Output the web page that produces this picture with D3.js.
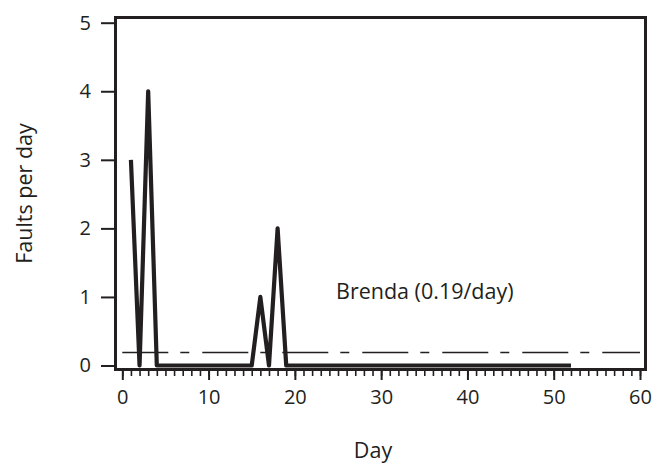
<!DOCTYPE html>
<html>
<head>
<meta charset="utf-8">
<script src="https://cdn.jsdelivr.net/npm/d3@7"></script>
<style>
  html, body { margin: 0; padding: 0; background: #fff; }
  svg { display: block; }
  text { font-family: "Open Sans", Roboto, sans-serif; fill: #231f20; }
</style>
</head>
<body>
<svg id="chart" width="654" height="466"></svg>
<script>
// ---- data ----
const days = d3.range(1, 53); // days 1..52
const faults = [3,0,4,0,0,0,0,0,0,0,0,0,0,0,0,1,0,2,0,0,
                0,0,0,0,0,0,0,0,0,0,0,0,0,0,0,0,0,0,0,0,
                0,0,0,0,0,0,0,0,0,0,0,0];
const meanRate = 0.19;
const seriesLabel = "Brenda (0.19/day)";
const xMajorTicks = [0, 10, 20, 30, 40, 50, 60];
const xMinorTicks = d3.range(0, 61);
const yTicks = [0, 1, 2, 3, 4, 5];
const xTitle = "Day";
const yTitle = "Faults per day";

const ink = "#231f20";
const fontFam = '"Open Sans", Roboto, sans-serif';
const svg = d3.select("#chart");

const x = d3.scaleLinear().domain([0, 60]).range([122.3, 640]);
const y = d3.scaleLinear().domain([0, 5]).range([365.5, 22.7]);

const box = { left: 115.5, top: 17.5, right: 645.5, bottom: 369.5 };

// y axis (ticks outside left)
const yAxis = svg.append("g")
  .attr("transform", `translate(${box.left - 1.5},0)`)
  .call(d3.axisLeft(y).tickValues(yTicks).tickSize(13).tickPadding(10).tickFormat(d3.format("d")));
yAxis.select(".domain").remove();
yAxis.selectAll(".tick line").attr("stroke", ink).attr("stroke-width", 2);
yAxis.selectAll(".tick text").attr("font-size", 20).style("font-family", fontFam).attr("fill", ink);

// x axis minor ticks
const xMinor = svg.append("g")
  .attr("transform", `translate(0,${box.bottom + 1.5})`)
  .call(d3.axisBottom(x).tickValues(xMinorTicks).tickSize(5).tickFormat(""));
xMinor.select(".domain").remove();
xMinor.selectAll(".tick line").attr("stroke", ink).attr("stroke-width", 1.6);

// x axis major ticks
const xAxis = svg.append("g")
  .attr("transform", `translate(0,${box.bottom + 1.5})`)
  .call(d3.axisBottom(x).tickValues(xMajorTicks).tickSize(9).tickPadding(10).tickFormat(d3.format("d")));
xAxis.select(".domain").remove();
xAxis.selectAll(".tick line").attr("stroke", ink).attr("stroke-width", 2);
xAxis.selectAll(".tick text").attr("font-size", 20).style("font-family", fontFam).attr("fill", ink);

// mean dashed line
svg.append("line")
  .attr("x1", x(0)).attr("x2", x(60))
  .attr("y1", y(meanRate)).attr("y2", y(meanRate))
  .attr("stroke", ink).attr("stroke-width", 1.6)
  .attr("stroke-dasharray", "46,12,9,13");

// data line
const line = d3.line().x(d => x(d[0])).y(d => y(d[1]));
svg.append("path")
  .datum(days.map((d, i) => [d, faults[i]]))
  .attr("d", line)
  .attr("fill", "none")
  .attr("stroke", ink)
  .attr("stroke-width", 4.2)
  .attr("stroke-linejoin", "round");

// box
svg.append("rect")
  .attr("x", box.left).attr("y", box.top)
  .attr("width", box.right - box.left).attr("height", box.bottom - box.top)
  .attr("fill", "none").attr("stroke", ink).attr("stroke-width", 3);

// series label
svg.append("text")
  .attr("x", 336).attr("y", 299)
  .attr("font-size", 21.5)
  .text(seriesLabel);

// axis titles
svg.append("text")
  .attr("x", 373).attr("y", 458)
  .attr("text-anchor", "middle")
  .attr("font-size", 21.5)
  .text(xTitle);

svg.append("text")
  .attr("transform", `translate(${32},${(box.top + box.bottom) / 2}) rotate(-90)`)
  .attr("text-anchor", "middle")
  .attr("font-size", 21.5)
  .text(yTitle);
</script>
</body>
</html>
